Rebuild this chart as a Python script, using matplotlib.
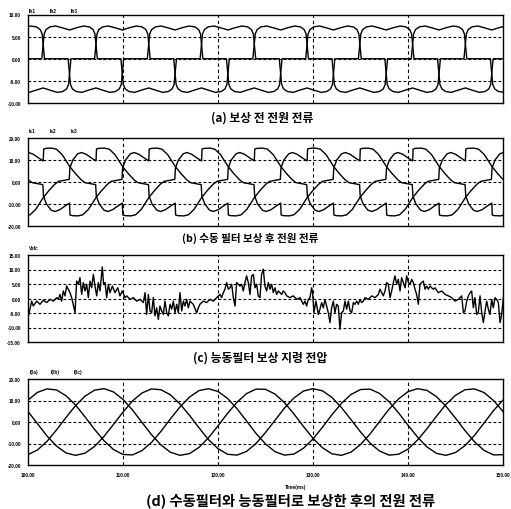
import numpy as np
import matplotlib
matplotlib.use("Agg")
import matplotlib.pyplot as plt

plt.rcParams['font.family'] = ['Noto Sans CJK KR', 'DejaVu Sans']

# ---- data (time in ms) ----
x_ticks = [100, 110, 120, 130, 140, 150]

# instants where each phase's positive load-current pulse starts (same load in a and b)
on_ph1 = [84.93, 101.60, 118.27, 134.93]
on_ph2 = [90.49, 107.16, 123.82, 140.49]
on_ph3 = [96.04, 112.71, 129.38, 146.04]

# (a) one cycle of the source current before compensation (time after turn-on, A)
a_cycle_t = [-0.15, 0.1, 0.3, 0.7, 1.3, 2.0, 2.78, 3.5, 4.25, 4.85, 5.25, 5.45, 5.70,
             8.18, 8.43, 8.63, 9.03, 9.63, 10.33, 11.11, 11.83, 12.58, 13.18, 13.58,
             13.78, 14.03, 16.50]
a_cycle_v = [0, 5.6, 6.6, 7.2, 7.4, 7.0, 6.5, 7.0, 7.4, 7.2, 6.6, 5.6, 0,
             0, -5.8, -6.8, -7.4, -7.6, -7.1, -6.6, -7.1, -7.6, -7.4, -6.8,
             -5.8, 0, 0]
a_yticks = [10, 5, 0, -5, -10]
a_labels = ['Ih1', 'Ih2', 'Ih3']

# (b) one cycle of the source current with the passive filter (time after turn-on, A)
b_cycle_t = [0.00, 0.05, 0.3, 0.9, 1.4, 2.0, 2.8, 3.4, 4.0, 4.4, 5.0, 5.52, 5.59,
             5.9, 6.4, 6.8, 7.3, 7.9, 8.2,
             8.33, 8.38, 8.63, 9.23, 9.73, 10.33, 11.13, 11.73, 12.33, 12.73, 13.33,
             13.85, 13.92, 14.23, 14.73, 15.13, 15.63, 16.23, 16.53]
b_cycle_v = [9.6, 15.0, 15.3, 15.4, 14.9, 12.4, 7.0, 3.8, 1.0, -0.3, -0.8, -1.2, -6.4,
             -10.0, -12.8, -13.4, -12.6, -10.8, -10.0,
             -9.6, -15.0, -15.3, -15.4, -14.9, -12.4, -7.0, -3.8, -1.0, 0.3, 0.8,
             1.2, 6.4, 10.0, 12.8, 13.4, 12.6, 10.8, 10.0]
b_yticks = [20, 10, 0, -10, -20]
b_labels = ['Is1', 'Is2', 'Is3']

# (c) compensation reference voltage of the active filter (V)
c_t = [100.04, 100.39, 100.56, 100.91, 101.26, 101.61, 101.96, 102.32, 102.67, 103.02,
       103.19, 103.37, 103.54, 103.72, 103.89, 104.07, 104.42, 104.60, 104.95, 105.12,
       105.30, 105.47, 105.65, 105.82, 106.00, 106.18, 106.35, 106.53, 106.70, 106.88,
       107.05, 107.23, 107.40, 107.58, 107.82, 107.96, 108.11, 108.28, 108.46, 108.63,
       108.88, 109.16, 109.44, 109.68, 109.93, 110.21, 110.39, 110.74, 111.09, 111.44,
       111.79, 112.14, 112.32, 112.49, 112.67, 112.84, 113.02, 113.19, 113.37, 113.54,
       113.72, 113.89, 114.07, 114.25, 114.42, 114.60, 114.77, 114.95, 115.12, 115.30,
       115.47, 115.65, 115.82, 116.00, 116.18, 116.35, 116.53, 116.70, 116.88, 117.05,
       117.40, 117.75, 117.93, 118.10, 118.45, 118.80, 119.16, 119.51, 119.86, 120.21,
       120.38, 120.56, 120.73, 120.91, 121.09, 121.26, 121.44, 121.61, 121.79, 121.96,
       122.14, 122.31, 122.49, 122.66, 122.84, 123.01, 123.19, 123.37, 123.54, 123.72,
       123.89, 124.07, 124.24, 124.42, 124.59, 124.77, 124.94, 125.12, 125.30, 125.47,
       125.65, 125.82, 126.00, 126.17, 126.35, 126.52, 126.70, 126.87, 127.05, 127.23,
       127.58, 127.93, 128.28, 128.63, 128.98, 129.16, 129.33, 129.51, 129.68, 129.86,
       129.96, 130.10, 130.31, 130.56, 130.73, 130.91, 131.09, 131.26, 131.44, 131.61,
       131.79, 131.96, 132.14, 132.31, 132.49, 132.66, 132.84, 133.01, 133.19, 133.37,
       133.54, 133.72, 133.90, 134.07, 134.25, 134.42, 134.60, 134.77, 134.95, 135.12,
       135.30, 135.48, 135.83, 136.18, 136.53, 136.88, 137.05, 137.23, 137.40, 137.58,
       137.76, 137.93, 138.11, 138.28, 138.46, 138.63, 138.81, 138.98, 139.16, 139.33,
       139.51, 139.69, 139.86, 140.04, 140.21, 140.39, 140.56, 140.74, 140.91, 141.09,
       141.26, 141.44, 141.61, 141.79, 141.97, 142.14, 142.32, 142.49, 142.67, 142.84,
       143.19, 143.55, 143.90, 144.25, 144.60, 144.95, 145.30, 145.48, 145.65, 145.83,
       146.00, 146.18, 146.35, 146.53, 146.70, 146.88, 147.05, 147.23, 147.40, 147.58,
       147.76, 147.93, 148.11, 148.28, 148.46, 148.63, 148.81, 148.98, 149.16, 149.33,
       149.51, 149.69, 149.86, 150.04]
c_v = [-6.0, -0.9, -2.6, -0.9, -2.0, -0.6, -1.4, -0.3, -0.9, 0.3,
       -0.3, 1.4, -0.9, 2.6, 0.9, 4.3, 2.0, 0.3, -4.9, 6.0,
       4.9, 7.2, 1.4, 5.5, 2.6, 4.9, 0.3, 6.0, 3.7, 8.3,
       4.3, 0.9, 5.5, 2.6, 10.9, 4.9, 5.5, 0.3, 4.9, 2.0,
       4.3, 2.0, 3.7, 0.9, 2.6, 0.3, 0.9, -0.3, 0.3, -0.9,
       -0.3, -1.4, 2.0, -5.5, 1.4, -4.3, -4.9, 0.3, -6.0, -3.2,
       -7.2, -2.6, -4.3, -5.5, -0.9, -4.9, -6.0, -2.0, -3.7, -0.9,
       -4.9, -2.0, -4.9, 2.0, -4.3, -0.9, -2.6, -0.3, -3.2, -0.9,
       -2.0, -4.9, -3.2, -2.0, -0.9, -1.4, -0.3, -0.9, 0.3, 1.4,
       0.3, 2.0, 3.2, 5.5, 3.2, 3.7, 4.9, 0.3, -2.6, 5.5,
       4.9, 4.3, 4.9, 2.6, 5.5, 7.8, 5.5, 1.4, 7.8, 8.3,
       3.7, 4.9, 0.9, 0.3, 8.3, 10.1, 4.3, 2.6, 5.5, 3.2,
       4.9, 2.0, 3.7, 1.4, 2.6, 2.0, 1.4, 2.6, 2.0, 0.9,
       0.3, 0.9, -0.3, 0.3, -2.0, -0.9, -2.6, -0.3, 0.3, 3.7,
       2.0, -4.9, -0.9, -5.5, -3.7, -1.4, -3.2, -0.3, -2.6, -4.9,
       -8.3, -3.2, -0.9, -4.9, -2.0, -2.6, -10.6, -4.9, -4.3, -0.9,
       -3.7, -0.9, -4.3, -4.9, -1.4, -2.0, -0.9, -2.0, -0.3, -1.4,
       -0.9, 0.3, -0.3, 0.9, 0.3, 1.4, 3.2, 2.0, 0.9, 2.6,
       5.5, 4.9, 0.3, 2.6, 5.5, 7.8, 4.9, 6.6, 2.6, 7.2,
       5.5, 3.7, 7.8, 5.5, 4.9, 6.6, 5.5, 3.2, 1.4, -2.0,
       4.9, 5.5, 6.0, 3.2, 4.3, 3.2, 4.3, 3.7, 3.2, 3.7,
       2.0, 2.6, 1.4, 0.9, 0.3, -0.9, -0.3, 0.3, 0.9, -4.9,
       -4.3, -0.9, 0.9, 2.0, 2.6, -3.2, 0.3, -5.5, -4.9, 0.9,
       -4.9, -8.3, -4.3, -0.9, -3.7, -5.5, -0.3, -3.2, 0.3, -0.3,
       -1.4, -8.3, -5.5, 0.3]
c_yticks = [15, 10, 5, 0, -5, -10, -15]

# (d) source current with passive + active filter, sampled every 1 ms
d_t = list(range(100, 151))
d_ia = [10.2, 13.8, 15.4, 14.9, 12.2, 7.9, 2.4, -3.4, -8.7, -12.8, -15.1, -15.3, -13.3,
        -9.5, -4.3, 1.5, 7.0, 11.6, 14.6, 15.5, 14.2, 11.0, 6.2, 0.5, -5.3, -10.2,
        -13.8, -15.4, -14.9, -12.2, -7.9, -2.4, 3.4, 8.7, 12.8, 15.1, 15.3, 13.3, 9.5,
        4.3, -1.5, -7.0, -11.6, -14.6, -15.5, -14.2, -11.0, -6.2, -0.5, 5.3, 10.2]
d_ib = [4.9, -0.8, -6.5, -11.2, -14.4, -15.5, -14.5, -11.4, -6.7, -1.1, 4.6, 9.8, 13.5,
        15.4, 15.0, 12.6, 8.4, 3.1, -2.7, -8.2, -12.4, -15.0, -15.4, -13.7, -10.0, -4.9,
        0.8, 6.5, 11.2, 14.4, 15.5, 14.5, 11.4, 6.7, 1.1, -4.6, -9.8, -13.5, -15.4,
        -15.0, -12.6, -8.4, -3.1, 2.7, 8.2, 12.4, 15.0, 15.4, 13.7, 10.0, 4.9]
d_ic = [-15.2, -13.0, -9.0, -3.7, 2.1, 7.6, 12.0, 14.8, 15.5, 14.0, 10.5, 5.6, -0.2,
        -5.9, -10.7, -14.1, -15.5, -14.7, -11.8, -7.3, -1.8, 4.0, 9.2, 13.2, 15.3, 15.2,
        13.0, 9.0, 3.7, -2.1, -7.6, -12.0, -14.8, -15.5, -14.0, -10.5, -5.6, 0.2, 5.9,
        10.7, 14.1, 15.5, 14.7, 11.8, 7.3, 1.8, -4.0, -9.2, -13.2, -15.3, -15.2]
d_yticks = [20, 10, 0, -10, -20]
d_labels = ['I(Ia)', 'I(Ib)', 'I(Ic)']

captions = ['(a) 보상 전 전원 전류',
            '(b) 수동 필터 보상 후 전원 전류',
            '(c) 능동필터 보상 지령 전압',
            '(d) 수동필터와 능동필터로 보상한 후의 전원 전류']


def periodic(starts, cyc_t, cyc_v):
    t = np.concatenate([s + np.array(cyc_t) for s in starts])
    v = np.concatenate([np.array(cyc_v) for s in starts])
    return t, v


W, H = 511, 510
fig = plt.figure(figsize=(W / 100, H / 100), dpi=100)

tiny = dict(fontsize=3.4, fontweight='bold', family='Liberation Sans')


def px_axes(top, bottom):
    return fig.add_axes([28 / W, 1 - bottom / H, 475 / W, (bottom - top) / H])


def style(ax, yticks, show_x=False):
    ax.set_xlim(100, 150)
    ax.set_ylim(yticks[-1], yticks[0])
    ax.set_yticks(yticks)
    ax.set_yticklabels(['%.2f' % y for y in yticks], **tiny)
    ax.set_xticks(x_ticks)
    if show_x:
        ax.set_xticklabels(['%.2f' % x for x in x_ticks], **tiny)
    else:
        ax.set_xticklabels([])
    ax.tick_params(length=0, pad=5)
    for y in yticks[1:-1]:
        ax.axhline(y, color='black', lw=0.8, ls=(0, (2.5, 2.0)), zorder=1)
    for x in x_ticks[1:-1]:
        ax.axvline(x, color='black', lw=0.8, ls=(0, (3.0, 2.5)), zorder=1)
    for s in ax.spines.values():
        s.set_linewidth(1.0)


line_kw = dict(color='black', lw=1.0, zorder=3)

# (a)
ax = px_axes(15.5, 104)
for starts in (on_ph1, on_ph2, on_ph3):
    t, v = periodic(starts, a_cycle_t, a_cycle_v)
    ax.plot(t, v, **line_kw)
style(ax, a_yticks)

# (b)
ax = px_axes(139, 227)
for starts in (on_ph1, on_ph2, on_ph3):
    t, v = periodic(starts, b_cycle_t, b_cycle_v)
    ax.plot(t, v, **line_kw)
style(ax, b_yticks)

# (c)
ax = px_axes(256, 343)
ax.plot(c_t, c_v, **line_kw)
style(ax, c_yticks)

# (d)
ax = px_axes(380, 466)
for vals in (d_ia, d_ib, d_ic):
    ax.plot(d_t, vals, **line_kw)
style(ax, d_yticks, show_x=True)

# small signal names above each panel
for lab, x in zip(a_labels, [29, 50, 71]):
    fig.text(x / W, 1 - 11.5 / H, lab, va='center', **tiny)
for lab, x in zip(b_labels, [29, 50, 71]):
    fig.text(x / W, 1 - 131.5 / H, lab, va='center', **tiny)
fig.text(29 / W, 1 - 248 / H, 'Vafc', va='center', **tiny)
for lab, x in zip(d_labels, [30, 51, 74]):
    fig.text(x / W, 1 - 373 / H, lab, va='center', **tiny)
fig.text(296 / W, 1 - 487 / H, 'Time(ms)', ha='center', va='center', **tiny)

# captions
for cap, x, y, fs in zip(captions, [262, 250, 260, 291], [118.5, 238, 358, 501],
                         [8.5, 7.6, 8.5, 10.3]):
    fig.text(x / W, 1 - y / H, cap, fontsize=fs, fontweight='bold',
             ha='center', va='center')

fig.savefig('out.png', dpi=100)
